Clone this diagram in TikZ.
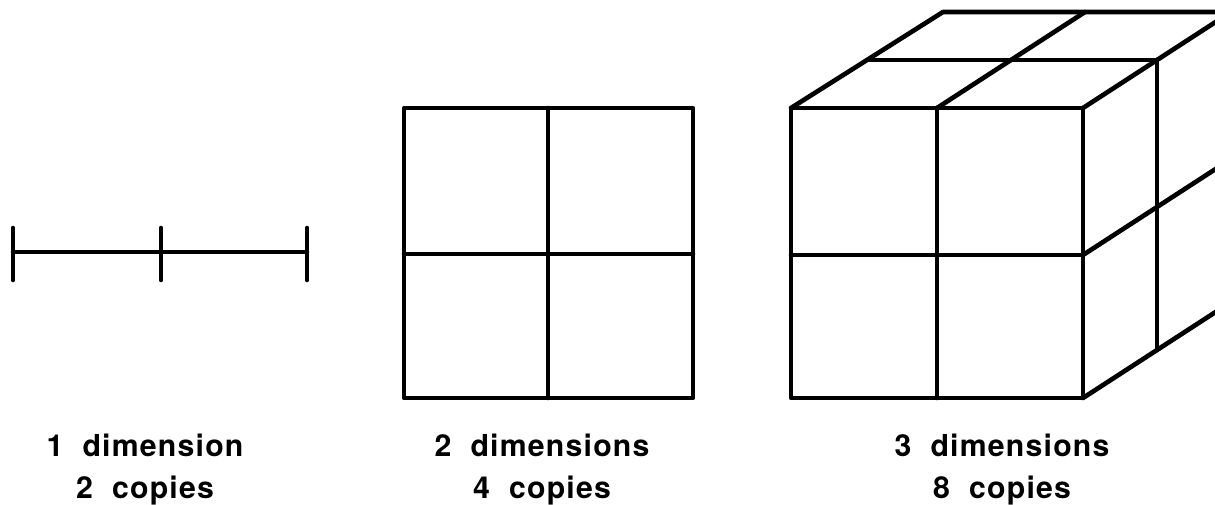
\documentclass[tikz,border=0pt]{standalone}
\usepackage{fontspec}
\setmainfont{TeX Gyre Heros}[LetterSpace=4]
\usetikzlibrary{positioning}

\begin{document}
\begin{tikzpicture}[
    x=0.025cm, y=-0.025cm,
    heavy/.style={
        line width=3.3pt,
        line cap=round,
        line join=round
    },
    caption/.style={
        align=center,
        anchor=base,
        font=\fontsize{21.5}{29.5}\selectfont\bfseries
    }
]
\useasboundingbox (0,0) rectangle (1215,505);
\clip (0,0) rectangle (1215,505);

% one dimension
\coordinate (seg_left) at (13,252);
\coordinate (seg_mid) at (161,252);
\coordinate (seg_right) at (307,252);
\draw[heavy] (seg_left) -- (seg_right);
\foreach \p in {seg_left, seg_mid, seg_right}
    \draw[heavy] (\p) ++(0,-24) -- ++(0,52);

% two dimensions
\draw[heavy] (404,108) rectangle (693,398);
\draw[heavy] (548,108) -- (548,398) (404,254) -- (693,254);

% three dimensions, depth = (152,-96)
\draw[heavy] (791,108) rectangle (1083,398);
\draw[heavy] (937,108) -- (937,398) (791,255) -- (1083,255);
\draw[heavy] (791,108) -- (943,12) -- (1235,12);
\draw[heavy] (937,108) -- (1085,12);
\draw[heavy] (870,60) -- (1157,60);
\draw[heavy] (1083,108) -- (1231,12);
\draw[heavy] (1157,60) -- (1157,350);
\draw[heavy] (1083,255) -- (1231,159);
\draw[heavy] (1083,398) -- (1231,302);

\node[caption] (one_label) at (145,498) {1~ dimension\\2~ copies};
\node[caption] (two_label) at (542,498) {2~ dimensions\\4~ copies};
\node[caption] (three_label) at (1002,498) {3~ dimensions\\8~ copies};

\end{tikzpicture}
\end{document}
